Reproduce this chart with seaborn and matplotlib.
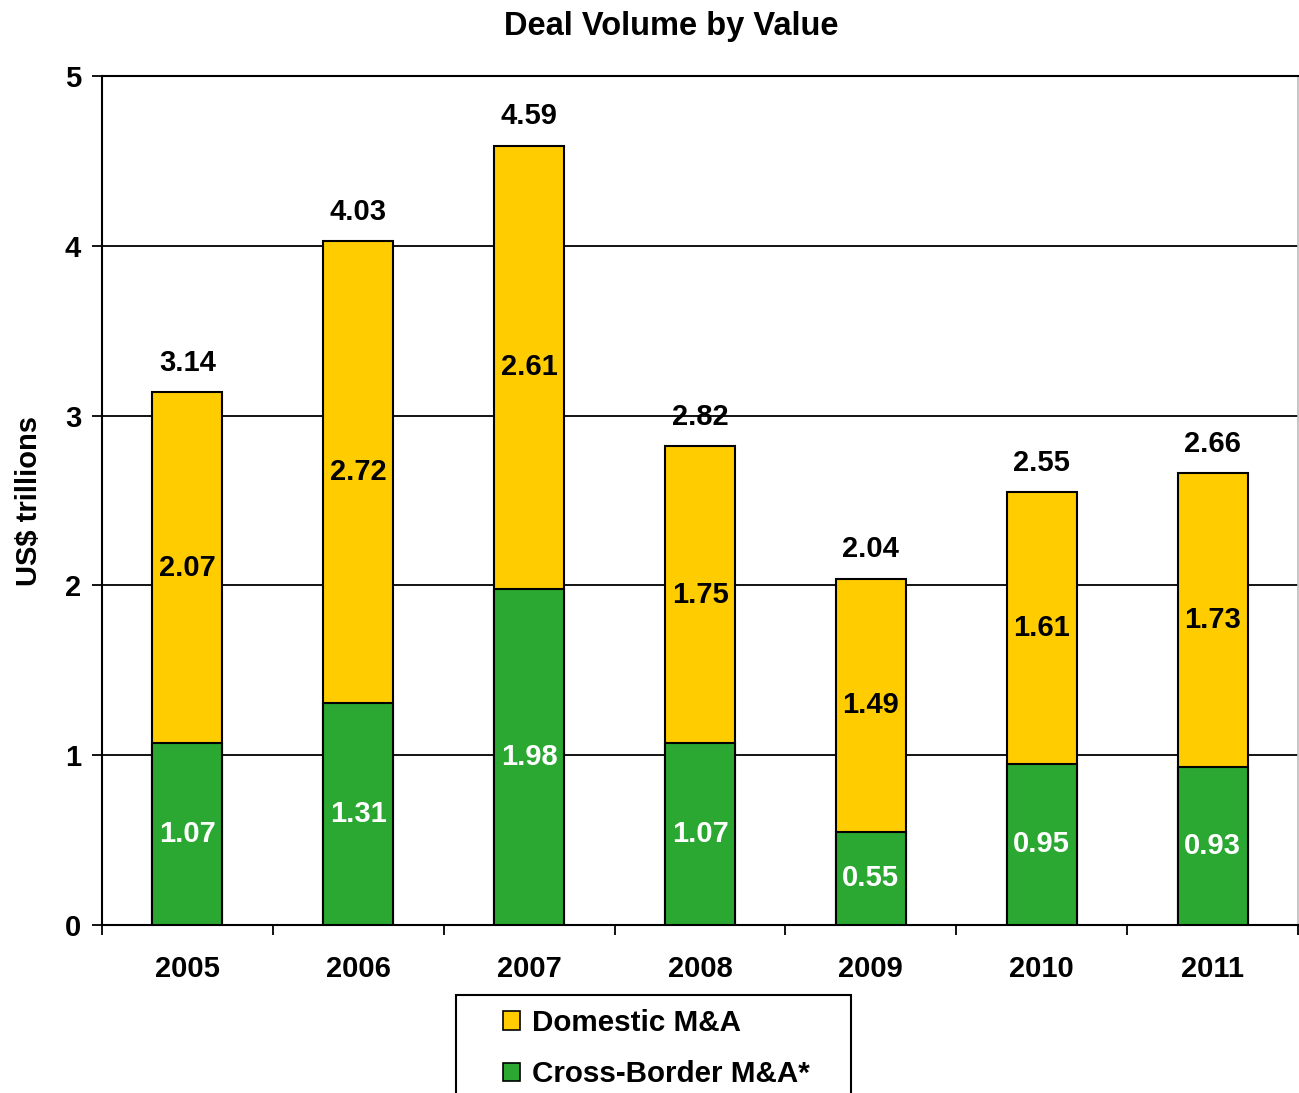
import matplotlib
matplotlib.use("Agg")
import matplotlib.pyplot as plt
import seaborn as sns
import pandas as pd
from matplotlib.patches import Patch, Rectangle
from matplotlib.ticker import FixedLocator

years = ["2005", "2006", "2007", "2008", "2009", "2010", "2011"]
cross_border = [1.07, 1.31, 1.98, 1.07, 0.55, 0.95, 0.93]
domestic = [2.07, 2.72, 2.61, 1.75, 1.49, 1.61, 1.73]
totals = [3.14, 4.03, 4.59, 2.82, 2.04, 2.55, 2.66]

YELLOW = "#FFCC00"
GREEN = "#2AA832"

sns.set_theme(style="white")
plt.rcParams['font.family'] = ['Liberation Sans', 'DejaVu Sans']
plt.rcParams['font.weight'] = 'bold'
for k in ["text.color", "axes.labelcolor", "xtick.color", "ytick.color"]:
    plt.rcParams[k] = "black"

df = pd.DataFrame({"year": years, "cross": cross_border, "domestic": domestic, "total": totals})

fig = plt.figure(figsize=(12.99, 10.93), dpi=100)
ax = fig.add_axes([102/1299, 1 - 925/1093, 1196/1299, (925 - 76)/1093])

sns.barplot(data=df, x="year", y="total", color=YELLOW, saturation=1, width=0.41,
            edgecolor="black", linewidth=1.5, errorbar=None, ax=ax, zorder=3)
sns.barplot(data=df, x="year", y="cross", color=GREEN, saturation=1, width=0.41,
            edgecolor="black", linewidth=1.5, errorbar=None, ax=ax, zorder=4)

ax.set_ylim(0, 5)
ax.set_xlim(-0.5, len(years) - 0.5)
ax.set_yticks([0, 1, 2, 3, 4, 5])
ax.yaxis.grid(True, color="black", linewidth=1.3, zorder=0)
ax.set_axisbelow(True)

FS = 21
for i in range(len(years)):
    c = cross_border[i]
    t = totals[i]
    ax.text(i, c / 2, f"{c:.2f}", ha="center", va="center", color="white",
            fontsize=FS, fontweight="bold", zorder=6)
    ax.text(i, c + (t - c) / 2, f"{domestic[i]:.2f}", ha="center", va="center", color="black",
            fontsize=FS, fontweight="bold", zorder=6)
    ax.annotate(f"{t:.2f}", xy=(i, t), xytext=(0, 21), textcoords="offset points",
                ha="center", va="center", color="black", fontsize=FS, fontweight="bold", zorder=6)

ax.set_xlabel("")
ax.set_ylabel("US$ trillions", fontsize=21, fontweight="bold", labelpad=16)

ax.tick_params(axis="x", which="major", length=0, pad=21.5, labelsize=21)
ax.xaxis.set_minor_locator(FixedLocator([i - 0.5 for i in range(len(years) + 1)]))
ax.tick_params(axis="x", which="minor", length=7, width=1.3, direction="out", color="black", bottom=True)
ax.tick_params(axis="y", which="major", length=7, width=1.3, direction="out", color="black",
               left=True, pad=8, labelsize=21)
for lab in ax.get_xticklabels() + ax.get_yticklabels():
    lab.set_fontweight("bold")

for side in ["left", "bottom", "top"]:
    ax.spines[side].set_color("black")
    ax.spines[side].set_linewidth(1.5)
ax.spines["right"].set_color("#BBBBBB")
ax.spines["right"].set_linewidth(1.2)

fig.text(671/1299, 1 - 27/1093, "Deal Volume by Value", ha="center", va="center",
         fontsize=23.5, fontweight="bold")

# legend frame
fig.patches.append(Rectangle((456/1299, -0.02), (851 - 456)/1299, 0.02 + (1093 - 995)/1093,
                             transform=fig.transFigure, fill=False, edgecolor="black",
                             linewidth=1.5, figure=fig))
handles = [Patch(facecolor=YELLOW, edgecolor="black", linewidth=1.2, label="Domestic M&A"),
           Patch(facecolor=GREEN, edgecolor="black", linewidth=1.2, label="Cross-Border M&A*")]
fig.legend(handles=handles, loc="upper left", bbox_to_anchor=(479/1299, 1 - 985/1093),
           frameon=False, prop={"weight": "bold", "size": 21.3},
           handlelength=0.6, handleheight=0.6, handletextpad=0.4, labelspacing=0.8,
           borderpad=0.3)

fig.savefig("out.png", dpi=100)
